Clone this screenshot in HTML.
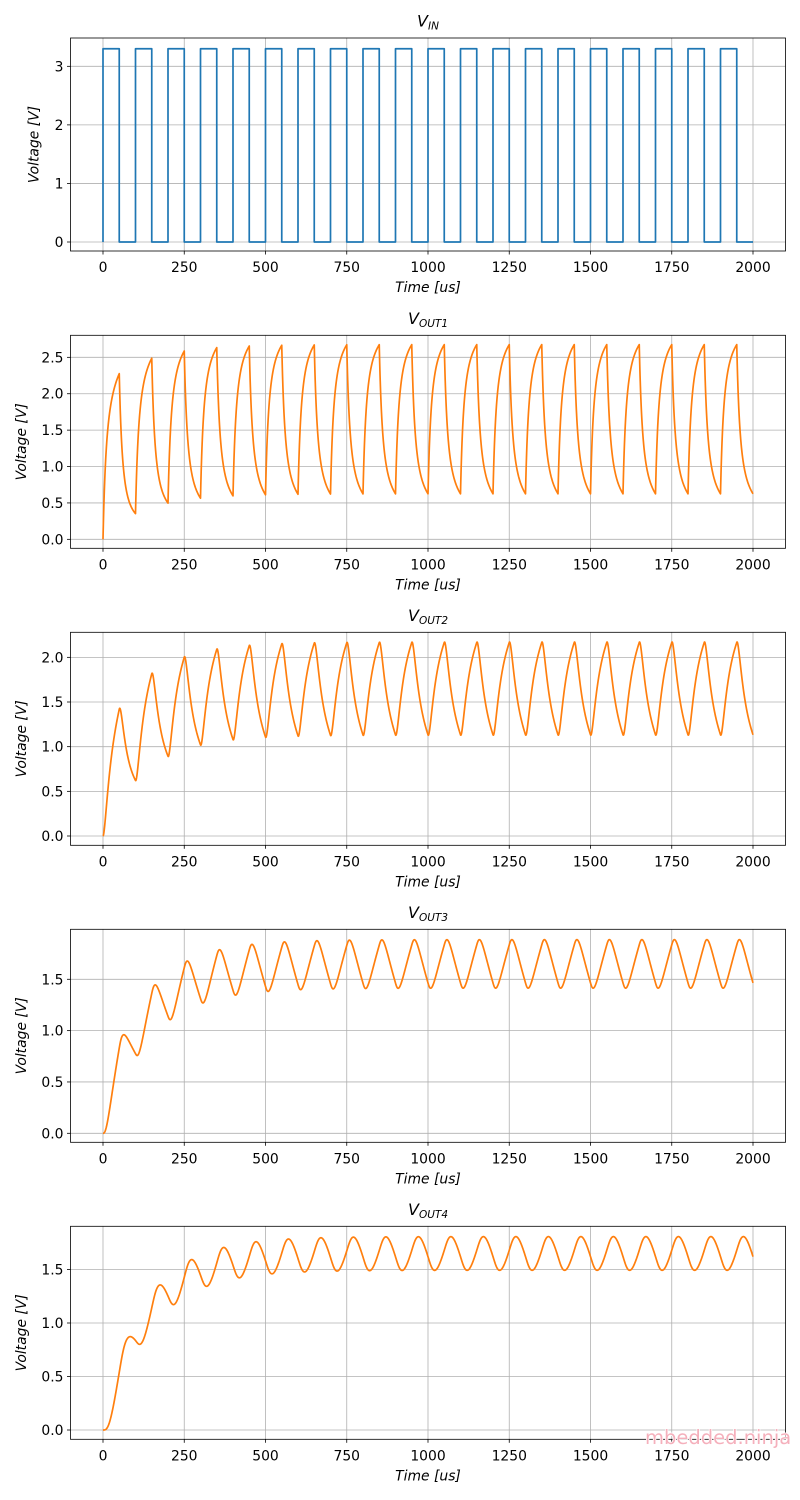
<!DOCTYPE html>
<html>
<head>
<meta charset="utf-8">
<style>
html,body{margin:0;padding:0;background:#fff;}
#w{width:800px;height:1500px;overflow:hidden;}
svg{display:block;}
</style>
</head>
<body>
<div id="w"></div>
<script>
(function(){
  var L = 70.5, R = 785.5;
  function X(t){ return 103 + 0.325 * t; }
  var P = [
    {top:38,    bot:251,    y0:242,    s:58.56,  ticks:[0,1,2,3],            dec:0, title:'IN',   lab:38.4, color:'#1f77b4'},
    {top:335.3, bot:548.3,  y0:539.33, s:72.8,   ticks:[0,0.5,1,1.5,2,2.5],  dec:1, title:'OUT1', lab:26,   color:'#ff7f0e'},
    {top:632.3, bot:845.3,  y0:836,    s:89.33,  ticks:[0,0.5,1,1.5,2],      dec:1, title:'OUT2', lab:26,   color:'#ff7f0e'},
    {top:929.3, bot:1142.3, y0:1133.3, s:102.67, ticks:[0,0.5,1,1.5],        dec:1, title:'OUT3', lab:26,   color:'#ff7f0e'},
    {top:1226.3,bot:1439.3, y0:1430,   s:107.0,  ticks:[0,0.5,1,1.5],        dec:1, title:'OUT4', lab:26,   color:'#ff7f0e'}
  ];

  // Simulate 4-stage RC ladder
  var tau = 16, dt = 0.005, steps = Math.round(2000/dt), every = 100;
  var v1=0,v2=0,v3=0,v4=0;
  var S=[[],[],[],[]];
  function rec(){ S[0].push(v1); S[1].push(v2); S[2].push(v3); S[3].push(v4); }
  rec();
  for (var i=0;i<steps;i++){
    var t=(i+0.5)*dt;
    var vin=((t%100)<50)?3.3:0;
    var d1=(vin-2*v1+v2)/tau, d2=(v1-2*v2+v3)/tau, d3=(v2-2*v3+v4)/tau, d4=(v3-v4)/tau;
    v1+=d1*dt; v2+=d2*dt; v3+=d3*dt; v4+=d4*dt;
    if((i+1)%every===0) rec();
  }
  var sampleDt = dt*every;

  var s = '<svg width="800" height="1500" viewBox="0 0 800 1500" font-family="DejaVu Sans, Liberation Sans, sans-serif" fill="#000">';
  s += '<rect x="0" y="0" width="800" height="1500" fill="#fff"/>';

  P.forEach(function(p,k){
    function Y(v){ return p.y0 - p.s*v; }
    var g = '';
    for (var tt=0; tt<=2000; tt+=250){
      var x = X(tt).toFixed(2);
      g += '<line x1="'+x+'" y1="'+p.top+'" x2="'+x+'" y2="'+p.bot+'" stroke="#b0b0b0" stroke-width="0.8"/>';
      g += '<line x1="'+x+'" y1="'+p.bot+'" x2="'+x+'" y2="'+(p.bot+3.5)+'" stroke="#000" stroke-width="0.8"/>';
      g += '<text x="'+x+'" y="'+(p.bot+21)+'" font-size="13.9" text-anchor="middle">'+tt+'</text>';
    }
    p.ticks.forEach(function(v){
      var y = Y(v).toFixed(2);
      g += '<line x1="'+L+'" y1="'+y+'" x2="'+R+'" y2="'+y+'" stroke="#b0b0b0" stroke-width="0.8"/>';
      g += '<line x1="'+(L-3.5)+'" y1="'+y+'" x2="'+L+'" y2="'+y+'" stroke="#000" stroke-width="0.8"/>';
      g += '<text x="'+(L-7)+'" y="'+(Y(v)+5).toFixed(2)+'" font-size="13.9" text-anchor="end">'+v.toFixed(p.dec)+'</text>';
    });
    var d = '';
    if (k===0){
      var hi = Y(3.3).toFixed(2), lo = Y(0).toFixed(2);
      d = 'M'+X(0).toFixed(2)+' '+lo+' L'+X(0).toFixed(2)+' '+hi;
      for (var n=0;n<20;n++){
        var a=n*100;
        d += ' L'+X(a+50).toFixed(2)+' '+hi+' L'+X(a+50).toFixed(2)+' '+lo+' L'+X(a+100).toFixed(2)+' '+lo;
        if (n<19) d += ' L'+X(a+100).toFixed(2)+' '+hi;
      }
    } else {
      var arr = S[k-1];
      for (var j=0;j<arr.length;j++){
        d += (j===0?'M':'L') + X(j*sampleDt).toFixed(2) + ' ' + Y(arr[j]).toFixed(2) + ' ';
      }
    }
    g += '<path d="'+d+'" fill="none" stroke="'+p.color+'" stroke-width="1.7" stroke-linejoin="round" stroke-linecap="butt"/>';
    g += '<rect x="'+L+'" y="'+p.top+'" width="'+(R-L)+'" height="'+(p.bot-p.top).toFixed(2)+'" fill="none" stroke="#000" stroke-width="0.8"/>';
    g += '<text x="428" y="'+(p.top-11.3).toFixed(2)+'" font-size="16" font-style="italic" text-anchor="middle">V<tspan font-size="10.5" dy="2.8">'+p.title+'</tspan></text>';
    g += '<text x="428" y="'+(p.bot+41)+'" font-size="13.9" font-style="italic" text-anchor="middle">Time [us]</text>';
    var yc = ((p.top+p.bot)/2).toFixed(2);
    g += '<text transform="translate('+p.lab+','+yc+') rotate(-90)" font-size="13.9" font-style="italic" text-anchor="middle">Voltage [V]</text>';
    s += g;
  });

  s += '<text x="645" y="1444" font-size="19.5" fill="#f5b0bc" stroke="#fff" stroke-width="1.5" paint-order="stroke">mbedded.ninja</text>';
  s += '</svg>';
  document.getElementById('w').innerHTML = s;
})();
</script>
</body>
</html>
